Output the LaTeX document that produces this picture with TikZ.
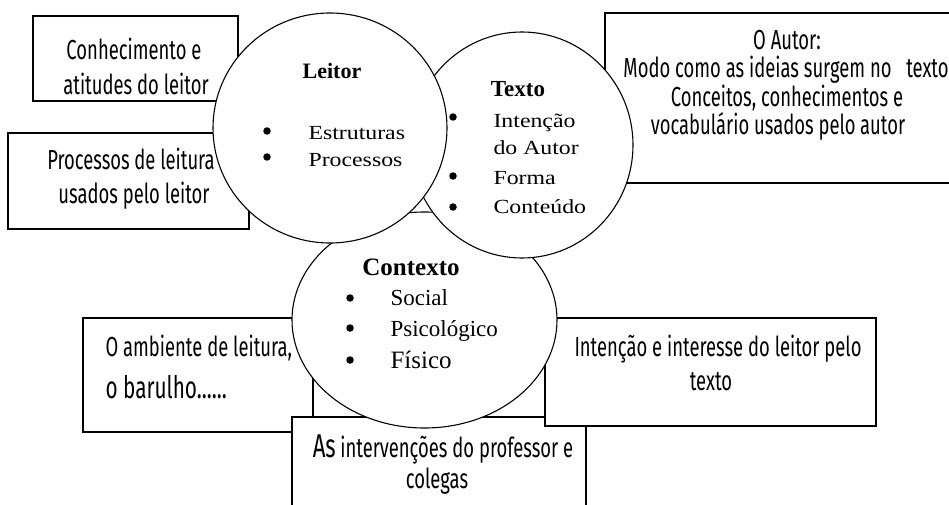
\documentclass[tikz,border=0pt]{standalone}
\usepackage{fontspec}
\setmainfont{Liberation Serif}
\newfontfamily\agency[FakeStretch=0.67]{Fira Sans}
\newfontfamily\wideserif[FakeStretch=1.19]{Liberation Serif}
\usetikzlibrary{shapes.geometric}
\begin{document}
\begin{tikzpicture}[x=1pt,y=-1pt,line width=1.1pt,
  box/.style={draw,fill=white,rectangle,inner sep=0pt,outer sep=0pt},
  blob/.style={draw,fill=white,ellipse,inner sep=0pt,outer sep=0pt},
  lbl/.style={font=\agency\fontsize{27.5}{32}\selectfont,inner sep=0pt,anchor=base},
  lblw/.style={lbl,anchor=base west},
  hd/.style={font=\bfseries\fontsize{22}{26}\selectfont,inner sep=0pt,anchor=base},
  itm/.style={font=\wideserif\fontsize{20}{24}\selectfont,inner sep=0pt,anchor=base west},
  ctx/.style={font=\fontsize{23}{27}\selectfont,inner sep=0pt,anchor=base west},
  bul/.style={circle,fill=black,draw=none,inner sep=0pt,minimum size=7.5pt}]
\useasboundingbox (0,0) rectangle (949,505);
\clip (0,0) rectangle (949,505);
% boxes
\node[box,minimum width=355,minimum height=170] (bA) at (782.5,98) {};
\node[box,minimum width=205,minimum height=85] (b1) at (135.5,58.5) {};
\node[box,minimum width=241,minimum height=96] (b2) at (128.5,181) {};
\node[box,minimum width=230,minimum height=114] (bE) at (198,375) {};
\node[box,minimum width=294,minimum height=103] (bS) at (439,468.5) {};
\node[box,minimum width=331,minimum height=108] (bI) at (710.5,372) {};
% circles
\node[blob,minimum width=265,minimum height=216] (cC) at (424.5,320) {};
\node[blob,minimum width=222,minimum height=226] (cT) at (522,145) {};
\node[blob,minimum width=234,minimum height=230] (cL) at (330,128) {};
% box texts
\node[lbl] (t1a) at (134,60) {Conhecimento e};
\node[lbl] (t1b) at (136,95) {atitudes do leitor};
\node[lbl] (t2a) at (131,170) {Processos\,de leitura};
\node[lbl] (t2b) at (134,203) {usados pelo leitor};
\node[lbl] (tAa) at (787,50) {O Autor:};
\node[lbl] (tAb) at (786,78) {Modo como as ideias surgem no~~~texto};
\node[lbl] (tAc) at (787,107) {Conceitos, conhecimentos e};
\node[lbl] (tAd) at (778,135) {vocabulário usados pelo\,autor};
\node[lblw] (tEa) at (105,356) {O ambiente de leitura,};
\node[lblw,font=\agency\fontsize{31}{35}\selectfont] (tEb) at (105,398) {o barulho......};
\node[lbl] (tSa) at (443,457) {{\fontsize{33}{37}\selectfont As}\,intervenções do professor e};
\node[lbl] (tSb) at (437,488) {colegas};
\node[lbl] (tIa) at (718,356) {Intenção e interesse do leitor pelo};
\node[lbl] (tIb) at (711,390) {texto};
% Leitor
\node[hd] (hL) at (332,79) {Leitor};
\node[bul] (uL1) at (267,131) {};
\node[bul] (uL2) at (267,157) {};
\node[itm] (iL1) at (308,140) {Estruturas};
\node[itm] (iL2) at (308,167) {Processos};
% Texto
\node[hd,font=\bfseries\fontsize{23}{27}\selectfont] (hT) at (518,97) {Texto};
\node[bul] (uT1) at (453,117) {};
\node[bul] (uT2) at (453,176) {};
\node[bul] (uT3) at (453,207) {};
\node[itm] (iT1) at (493,128) {Intenção};
\node[itm] (iT2) at (493,155) {do Autor};
\node[itm] (iT3) at (493,184) {Forma};
\node[itm] (iT4) at (493,213) {Conteúdo};
% Contexto
\node[hd,font=\bfseries\fontsize{25}{29}\selectfont] (hC) at (411,275) {Contexto};
\node[bul] (uC1) at (350,298) {};
\node[bul] (uC2) at (350,328) {};
\node[bul] (uC3) at (350,360) {};
\node[ctx] (iC1) at (390,305) {Social};
\node[ctx] (iC2) at (390,336) {Psicológico};
\node[ctx,font=\fontsize{25}{29}\selectfont] (iC3) at (390,368) {Físico};
\end{tikzpicture}
\end{document}
